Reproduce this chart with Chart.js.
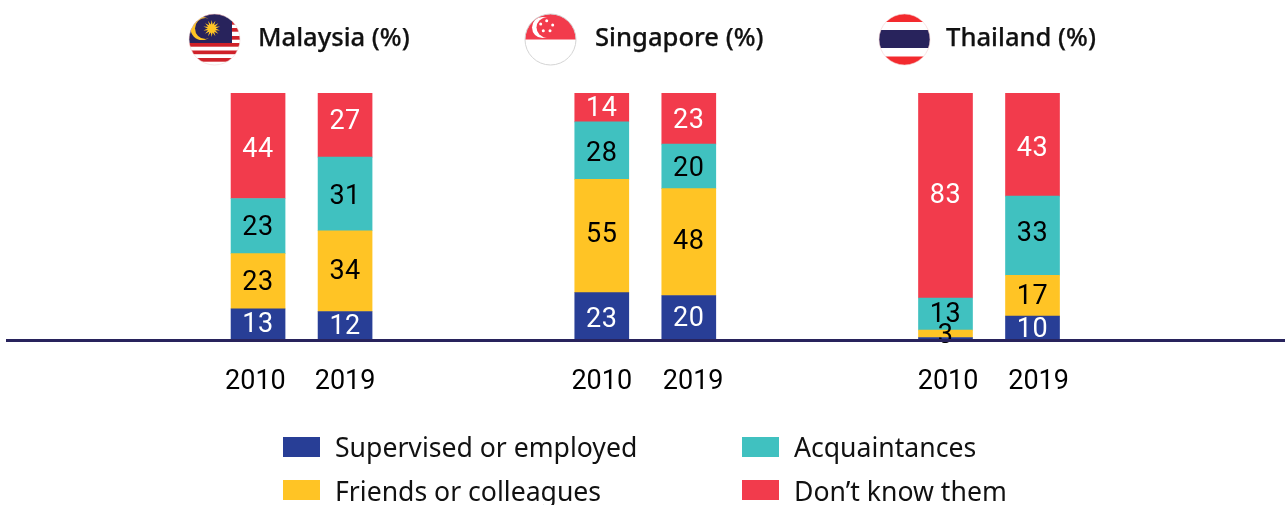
<!DOCTYPE html>
<html>
<head>
<meta charset="utf-8">
<title>Malaysia, Singapore, Thailand</title>
<script src="https://cdn.jsdelivr.net/npm/chart.js@4/dist/chart.umd.min.js"></script>
<style>
  html, body { margin: 0; padding: 0; background: #fff; overflow: hidden; }
  #wrap { position: relative; width: 1286px; height: 505px; font-family: "Noto Sans", sans-serif; color: #111; }
  canvas { position: absolute; left: 0; top: 0; }
  .flag { position: absolute; top: 13px; width: 53px; height: 53px; }
  .country { position: absolute; top: 19px; font-size: 25.6px; line-height: 36px; font-weight: 500; white-space: nowrap; -webkit-text-stroke: .25px #111; }
  .key { position: absolute; font-size: 26.6px; line-height: 36px; white-space: nowrap; }
  .key i { position: absolute; left: 0; width: 37px; height: 20px; }
  .key span { position: absolute; left: 52px; top: 0; }
</style>
</head>
<body>
<div id="wrap">
  <canvas id="chart" width="1286" height="505"></canvas>

  <svg class="flag" style="left:188px" viewBox="0 0 53 53">
    <defs><clipPath id="c1"><circle cx="26.5" cy="26.5" r="25.5"/></clipPath></defs>
    <g clip-path="url(#c1)">
      <rect width="53" height="53" fill="#fff"/>
      <g fill="#cf2129">
        <rect y="0" width="53" height="3.7"/><rect y="8" width="53" height="3.7"/>
        <rect y="15" width="53" height="3.7"/><rect y="23" width="53" height="3.7"/>
        <rect y="30" width="53" height="3.7"/><rect y="37.5" width="53" height="3.7"/>
        <rect y="45" width="53" height="3.7"/>
      </g>
      <rect width="44" height="30" fill="#28235c"/>
      <circle cx="14" cy="15.5" r="11.5" fill="#ffc425"/>
      <circle cx="17.5" cy="15.5" r="10.5" fill="#28235c"/>
      <polygon id="sun" fill="#ffc425"/>
    </g>
    <circle cx="26.5" cy="26.5" r="25.5" fill="none" stroke="#f0d8d8" stroke-width=".6"/>
  </svg>

  <svg class="flag" style="left:524px" viewBox="0 0 53 53">
    <defs><clipPath id="c2"><circle cx="26.5" cy="26.5" r="25.5"/></clipPath></defs>
    <g clip-path="url(#c2)">
      <rect width="53" height="53" fill="#fff"/>
      <rect width="53" height="26.5" fill="#f23b4c"/>
      <circle cx="18.5" cy="14.5" r="10.5" fill="#fff"/>
      <circle cx="22.5" cy="14.5" r="10" fill="#f23b4c"/>
      <g fill="#fff">
        <circle cx="22.7" cy="7.7" r="1.5"/><circle cx="28.7" cy="12" r="1.5"/>
        <circle cx="26" cy="17.7" r="1.5"/><circle cx="19.3" cy="17.7" r="1.5"/>
        <circle cx="16.7" cy="11" r="1.5"/>
      </g>
    </g>
    <circle cx="26.5" cy="26.5" r="25.5" fill="none" stroke="#d4d4d4" stroke-width="1"/>
  </svg>

  <svg class="flag" style="left:878px" viewBox="0 0 53 53">
    <defs><clipPath id="c3"><circle cx="26.5" cy="26.5" r="25.5"/></clipPath></defs>
    <g clip-path="url(#c3)">
      <rect width="53" height="53" fill="#fff"/>
      <rect width="53" height="9" fill="#f32a2e"/>
      <rect y="17" width="53" height="18" fill="#28235c"/>
      <rect y="43.5" width="53" height="9.5" fill="#f32a2e"/>
    </g>
    <circle cx="26.5" cy="26.5" r="25.5" fill="none" stroke="#f5d0d0" stroke-width=".6"/>
  </svg>

  <div class="country" style="left:258px">Malaysia (%)</div>
  <div class="country" style="left:595px">Singapore (%)</div>
  <div class="country" style="left:946px">Thailand (%)</div>
  <div id="legend"></div>
</div>

<script>
// Labelled values, bars in order: Malaysia 2010, 2019, Singapore 2010, 2019, Thailand 2010, 2019
const years = ['2010', '2019'];
const seriesNames = ['Supervised or employed', 'Friends or colleagues', 'Acquaintances', 'Don\u2019t know them'];
const supervised = [13, 12, 23, 20, 1, 10];
const friends = [23, 34, 55, 48, 3, 17];
const acquaintances = [23, 31, 28, 20, 13, 33];
const dontKnow = [44, 27, 14, 23, 83, 43];

const series = [supervised, friends, acquaintances, dontKnow];
const colors = ['#283e96', '#ffc425', '#40c1c0', '#f23b4c'];
const labelColors = ['#fff', '#000', '#000', '#fff'];

// the printed labels are not quite centred in the original, px up/down per segment
const labelNudge = [
    [-1, -1, 2, 0, 0, 0],
    [0, -1, -3, -2, 0, 0],
    [0, 1, 2, 1, -1, -3],
    [2, -5, 0, 1, -1, 3]
];

// x axis is in bar slots, the countries sit 3.95 slots apart
const barSlots = [0, 1, 3.95, 4.95, 7.9, 8.9];
const tickSlots = [-0.03, 1, 3.95, 5, 7.93, 8.97];

// The published bars all fill the full height, so each one is drawn as a share of its own total
const totals = supervised.map((_, i) => series.reduce((sum, s) => sum + s[i], 0));

const datasets = series.map((values, s) => ({
    label: seriesNames[s],
    backgroundColor: colors[s],
    barThickness: 54,
    data: values.map((v, i) => ({ x: barSlots[i], y: v / totals[i] * 100 }))
}));

// Printed value in the middle of each segment (the 1 in Thailand 2010 is too small for one)
const valueLabels = {
    id: 'valueLabels',
    afterDatasetsDraw(chart) {
        const c = chart.ctx;
        c.save();
        c.font = '400 27px Roboto';
        c.letterSpacing = '0.5px';
        c.textAlign = 'center';
        c.textBaseline = 'middle';
        chart.data.datasets.forEach((ds, s) => {
            chart.getDatasetMeta(s).data.forEach((bar, i) => {
                const v = series[s][i];
                if (v < 2) return;
                c.fillStyle = labelColors[s];
                c.fillText(v, bar.x, (bar.y + bar.base) / 2 + 2 + labelNudge[s][i]);
            });
        });
        c.restore();
    }
};

new Chart(document.getElementById('chart').getContext('2d'), {
    type: 'bar',
    data: { datasets },
    plugins: [valueLabels],
    options: {
        responsive: false,
        animation: false,
        layout: { padding: { left: 7, right: 2, top: 93, bottom: 0 } },
        plugins: { legend: { display: false }, tooltip: { enabled: false } },
        scales: {
            x: {
                type: 'linear',
                offset: false,
                stacked: true,
                min: -2.885,
                max: 11.79,
                afterBuildTicks: scale => { scale.ticks = tickSlots.map(value => ({ value })); },
                afterFit: scale => { scale.height = 165; },
                grid: { display: false, drawTicks: false },
                border: { display: true, color: '#28235c', width: 3, z: 1 },
                ticks: {
                    autoSkip: false,
                    maxRotation: 0,
                    padding: 26,
                    color: '#000',
                    font: { family: 'Roboto', size: 27, weight: '400' },
                    callback: (v, i) => years[i % 2]
                }
            },
            y: { display: false, stacked: true, min: 0, max: 100 }
        }
    }
});

// Two column legend, down then across
const legendPos = [[283, 429, 8], [283, 473, 7], [742, 429, 8], [742, 473, 7]];
document.getElementById('legend').innerHTML = seriesNames.map((name, s) =>
    `<div class="key" style="left:${legendPos[s][0]}px;top:${legendPos[s][1]}px"><i style="top:${legendPos[s][2]}px;background:${colors[s]}"></i><span>${name}</span></div>`
).join('');

// 14 point sun on the Malaysian flag
const sunPoints = [];
for (let i = 0; i < 28; i++) {
    const r = i % 2 ? 4 : 8.5;
    const a = i * Math.PI / 14;
    sunPoints.push((23.7 + r * Math.sin(a)).toFixed(2) + ',' + (15.5 - r * Math.cos(a)).toFixed(2));
}
document.getElementById('sun').setAttribute('points', sunPoints.join(' '));
</script>
</body>
</html>
